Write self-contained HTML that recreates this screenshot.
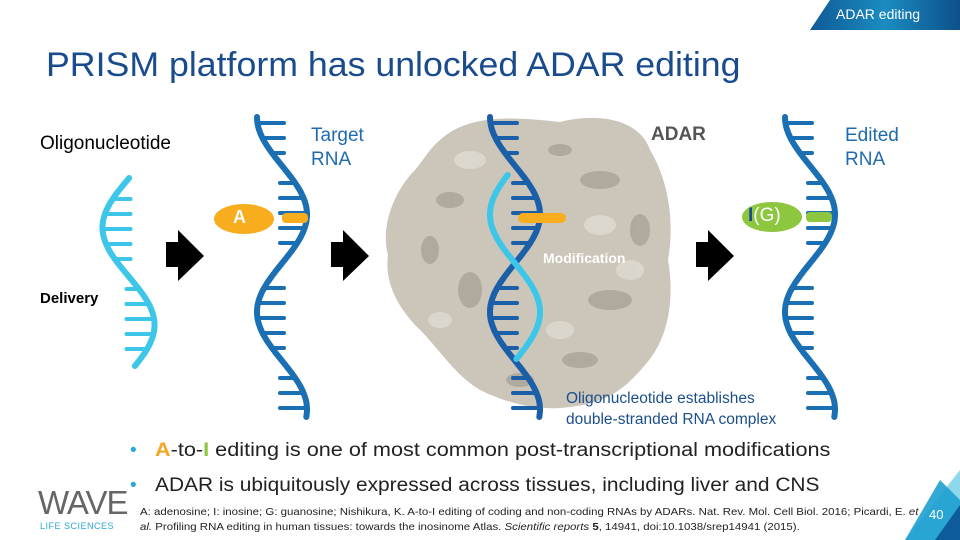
<!DOCTYPE html>
<html><head><meta charset="utf-8"><style>
body{margin:0;width:960px;height:540px;overflow:hidden;background:#fff;font-family:"Liberation Sans","DejaVu Sans",sans-serif;position:relative}
.t{position:absolute;white-space:nowrap;transform-origin:0 0}
</style></head><body>
<svg id="s" width="960" height="540" style="position:absolute;left:0;top:0">
<defs>
<linearGradient id="tab" x1="0" x2="1"><stop offset="0" stop-color="#0f5a96"/><stop offset="0.5" stop-color="#1a8cc0"/><stop offset="1" stop-color="#0e4f8a"/></linearGradient>
</defs>
<polygon points="830,0 960,0 960,30 810,30" fill="url(#tab)"/>
<path d="M440,140 C470,112 520,118 560,122 C600,112 640,120 650,150 C668,180 675,220 668,260 C675,300 668,340 645,365 C620,395 600,405 560,408 C530,410 500,400 480,390 C455,375 440,350 420,330 C400,310 384,285 388,255 C380,225 395,190 415,170 C425,158 430,148 440,140 Z" fill="#cbc5ba"/>
<g fill="#a9a398" opacity="0.8">
<ellipse cx="450" cy="200" rx="14" ry="8"/><ellipse cx="600" cy="180" rx="20" ry="9"/><ellipse cx="470" cy="290" rx="12" ry="18"/><ellipse cx="610" cy="300" rx="22" ry="10"/><ellipse cx="580" cy="360" rx="18" ry="8"/><ellipse cx="430" cy="250" rx="9" ry="14"/><ellipse cx="640" cy="230" rx="10" ry="16"/><ellipse cx="520" cy="380" rx="14" ry="7"/><ellipse cx="560" cy="150" rx="12" ry="6"/>
</g>
<g fill="#ddd8ce" opacity="0.9">
<ellipse cx="470" cy="160" rx="16" ry="9"/><ellipse cx="630" cy="270" rx="14" ry="10"/><ellipse cx="440" cy="320" rx="12" ry="8"/><ellipse cx="600" cy="225" rx="16" ry="10"/><ellipse cx="560" cy="330" rx="14" ry="9"/>
</g>
<g id="dna"></g>
<g fill="#000">
<rect x="166" y="242" width="13" height="25"/><polygon points="178,230 204,256 178,281"/>
<rect x="331" y="242" width="13" height="25"/><polygon points="343,230 369,256 343,281"/>
<rect x="696" y="242" width="13" height="25"/><polygon points="708,230 734,256 708,281"/>
</g>
<ellipse cx="244" cy="219" rx="30" ry="15" fill="#f7ad1d"/>
<rect x="282" y="213" width="26" height="10" rx="4" fill="#f7ad1d"/>
<rect x="518" y="213" width="48" height="10" rx="5" fill="#f7ad1d"/>
<ellipse cx="772" cy="217" rx="30" ry="15" fill="#8dc63f"/>
<rect x="806" y="212" width="26" height="10" rx="4" fill="#8dc63f"/>
<polygon points="960,470 960,540 905,540" fill="#8fd7ea"/>
<polygon points="940,480 960,500 960,540 905,540" fill="#1ea0d2" opacity="0.9"/>
<polygon points="960,505 960,540 935,540" fill="#0d5b9a"/>
</svg>
<script>
function strand(g,cx,amp,y0,y1,phase,col,rung,w){
  var pts=[];
  for(var y=y0;y<=y1;y+=2){var x=cx-amp*Math.cos(2*Math.PI*(y-phase)/195);pts.push([x,y]);}
  var d="M"+pts.map(p=>p[0].toFixed(1)+","+p[1]).join(" L");
  var s='<path d="'+d+'" stroke="'+col+'" stroke-width="'+(w||6)+'" fill="none" stroke-linecap="round"/>';
  if(rung){for(var y=y0+6;y<=y1-4;y+=15){var x=cx-amp*Math.cos(2*Math.PI*(y-phase)/195); if(Math.abs(x-cx)>8){s+='<line x1="'+x.toFixed(1)+'" y1="'+y+'" x2="'+(cx+(x<cx?2:-2)).toFixed(1)+'" y2="'+y+'" stroke="'+col+'" stroke-width="4" stroke-linecap="round"/>';}}}
  g.innerHTML+=s;
}
var g=document.getElementById("dna");
strand(g,128.5,-26,178,366,130,"#3ec6e8",true,6);
strand(g,282,25,117,418,117,"#1b6fb3",true,6);
strand(g,810,25,117,418,117,"#1b6fb3",true,6);
strand(g,515,25,117,418,117,"#1b5fa8",true,6);
strand(g,515,-25,175,360,117,"#3ec6e8",false,6);
</script>
<div class="t" style="left:836px;top:6px;font-size:14px;color:#fff">ADAR editing</div>
<div class="t" style="left:46px;top:46px;font-size:34px;color:#1a4b8c;transform:scaleX(1.05)">PRISM platform has unlocked ADAR editing</div>
<div class="t" style="left:40px;top:133px;font-size:19px;color:#000">Oligonucleotide</div>
<div class="t" style="left:311px;top:124px;font-size:19px;color:#1f6bb0;line-height:24px">Target<br>RNA</div>
<div class="t" style="left:651px;top:124px;font-size:19px;color:#555;font-weight:bold">ADAR</div>
<div class="t" style="left:845px;top:124px;font-size:19px;color:#1f6bb0;line-height:24px">Edited<br>RNA</div>
<div class="t" style="left:233px;top:207px;font-size:18px;color:#fff;font-weight:bold">A</div>
<div class="t" style="left:748px;top:205px;font-size:19px;color:#fff"><b style="color:#1a4b8c">I</b>(G)</div>
<div class="t" style="left:40px;top:290px;font-size:15px;color:#000;font-weight:bold">Delivery</div>
<div class="t" style="left:543px;top:250px;font-size:14px;color:#fff;font-weight:bold">Modification</div>
<div class="t" style="left:566px;top:388px;font-size:15.5px;color:#1b4f8a;line-height:21px">Oligonucleotide establishes<br>double-stranded RNA complex</div>
<div class="t" style="left:130px;top:440px;font-size:19px;color:#222"><span style="color:#2aa8d8">•</span></div>
<div class="t" style="left:155px;top:440px;font-size:19px;color:#222;transform:scaleX(1.14)"><b style="color:#f5a623">A</b>-to-<b style="color:#8dc63f">I</b> editing is one of most common post-transcriptional modifications</div>
<div class="t" style="left:130px;top:475px;font-size:19px;color:#222"><span style="color:#2aa8d8">•</span></div>
<div class="t" style="left:155px;top:475px;font-size:19px;color:#222;transform:scaleX(1.10)">ADAR is ubiquitously expressed across tissues, including liver and CNS</div>
<div class="t" style="left:140px;top:505px;font-size:10.5px;color:#222;line-height:15px;transform:scaleX(1.09)">A: adenosine; I: inosine; G: guanosine; Nishikura, K. A-to-I editing of coding and non-coding RNAs by ADARs. Nat. Rev. Mol. Cell Biol. 2016; Picardi, E. <i>et</i><br><i>al.</i> Profiling RNA editing in human tissues: towards the inosinome Atlas. <i>Scientific reports</i> <b>5</b>, 14941, doi:10.1038/srep14941 (2015).</div>
<div class="t" style="left:38px;top:484px;font-size:33px;color:#666;letter-spacing:-1px;font-weight:300">WAVE</div>
<div class="t" style="left:40px;top:521px;font-size:9px;color:#2aa8d8;letter-spacing:0.5px">LIFE SCIENCES</div>
<div class="t" style="left:929px;top:507px;font-size:13px;color:#fff">40</div>
</body></html>
